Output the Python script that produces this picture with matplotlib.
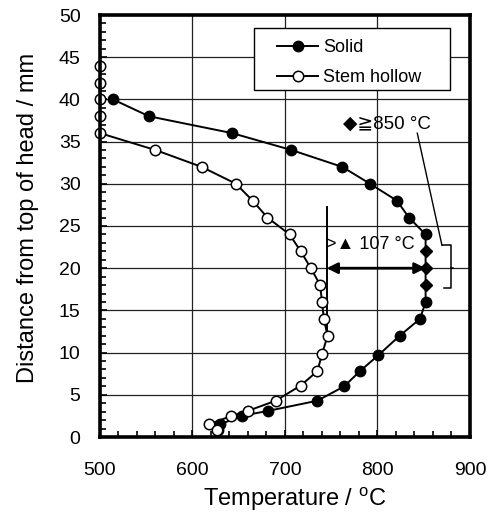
import numpy as np
import matplotlib
matplotlib.use("Agg")
import matplotlib.pyplot as plt
from matplotlib.ticker import MultipleLocator
from matplotlib.patches import Rectangle

plt.rcParams['font.family'] = ['Liberation Sans', 'DejaVu Sans']

# solid head
solid_temp = [514, 553, 643, 707, 762, 792, 821, 834, 852, 852, 852, 852, 852,
              846, 824, 801, 781, 764, 735, 682, 653, 630, 628]
solid_depth = [40, 38, 36, 34, 32, 30, 28, 26, 24, 22, 20, 18, 16,
               14, 12, 9.7, 7.8, 6, 4.3, 3.1, 2.5, 1.5, 0.8]
# points >= 850 C drawn as diamonds
hot_depth = [22, 20, 18]

# stem hollow
hollow_temp = [500, 500, 500, 500, 500, 560, 610, 647, 665, 681, 705, 717, 728,
               738, 740, 742, 746, 740, 735, 717, 690, 660, 642, 618, 626]
hollow_depth = [44, 42, 40, 38, 36, 34, 32, 30, 28, 26, 24, 22, 20,
                18, 16, 14, 12, 9.8, 7.8, 6.1, 4.3, 3.1, 2.5, 1.5, 0.8]

diff_from = 745
diff_to = 852
diff_depth = 20

fig = plt.figure(figsize=(4.96, 5.15), dpi=100)
ax = fig.add_axes([100 / 496, 1 - 437 / 515, 370 / 496, 422 / 515])

ax.grid(True, which='major', color='#222222', lw=0.9, zorder=0)

st = np.array(solid_temp)
sd = np.array(solid_depth)
hot = np.isin(sd, hot_depth)

ax.plot(solid_temp, solid_depth, '-', color='black', lw=1.4, zorder=3)
ax.plot(st[~hot], sd[~hot], 'o', ms=7.5, mfc='black', mec='black', zorder=4, clip_on=False)
ax.plot(st[hot], sd[hot], 'D', ms=5.8, mfc='black', mec='black', zorder=4)
ax.plot(hollow_temp, hollow_depth, '-o', color='black', lw=1.4, ms=7.5,
        mfc='white', mec='black', mew=1.1, zorder=5, clip_on=False)

# legend box drawn by hand, entries placed inside it
ax.add_patch(Rectangle((666.5, 41.1), 212, 7.36, facecolor='white',
                       edgecolor='black', lw=1.0, zorder=6))
ax.plot([], [], '-o', color='black', lw=1.4, ms=7.5, mfc='black', label='Solid')
ax.plot([], [], '-o', color='black', lw=1.4, ms=7.5, mfc='white', mew=1.1, label='Stem hollow')
handles, labels = ax.get_legend_handles_labels()
leg = ax.legend(handles, labels, loc='upper left', bbox_to_anchor=(0.478, 0.943),
                fontsize=13, frameon=False, handlelength=2.3, handletextpad=0.25,
                borderpad=0, labelspacing=0.72, borderaxespad=0)
leg.set_zorder(7)

# temperature difference
ax.plot([diff_from, diff_from], [11.5, 27.3], color='black', lw=1.4, zorder=3)
ax.annotate('', xy=(diff_to, diff_depth), xytext=(diff_from, diff_depth),
            arrowprops=dict(arrowstyle='<|-|>', color='black', lw=2,
                            mutation_scale=16, shrinkA=0, shrinkB=0), zorder=6)
ax.text(792, 22.8, '>\u25b2 107 \u00b0C', fontsize=13, ha='center', va='center', zorder=6)

# bracket for >= 850 C
ax.plot([869.6, 879.7, 879.7, 871.4], [22.75, 22.75, 17.65, 17.65], color='black', lw=1.1, zorder=6)
ax.plot([879.7, 882], [20.05, 20.05], color='black', lw=1.1, zorder=6)
ax.plot([843, 869.6], [36, 22.75], color='black', lw=1.0, zorder=6)
ax.text(810, 37.1, '\u25c6\u2267850 \u00b0C', fontsize=13.5, ha='center', va='center', zorder=6)

ax.set_xlim(500, 900)
ax.set_ylim(0, 50)
ax.xaxis.set_major_locator(MultipleLocator(100))
ax.xaxis.set_minor_locator(MultipleLocator(20))
ax.yaxis.set_major_locator(MultipleLocator(5))
ax.yaxis.set_minor_locator(MultipleLocator(1))
ax.tick_params(which='both', direction='in', labelsize=14, top=False, right=False)
ax.tick_params(which='major', length=5, width=1.2)
ax.tick_params(which='minor', length=4, width=1.2)
ax.tick_params(axis='x', which='major', pad=18)
ax.tick_params(axis='y', which='major', pad=14)
for s in ax.spines.values():
    s.set_linewidth(2.6)
    s.set_zorder(8)

ax.set_xlabel('Temperature / $\\mathregular{^{o}}$C', fontsize=17, labelpad=5)
ax.set_ylabel('Distance from top of head / mm', fontsize=17, labelpad=14)
ax.xaxis.label.set_x(0.526)
ax.yaxis.label.set_y(0.52)

fig.savefig('out.png', dpi=100)
